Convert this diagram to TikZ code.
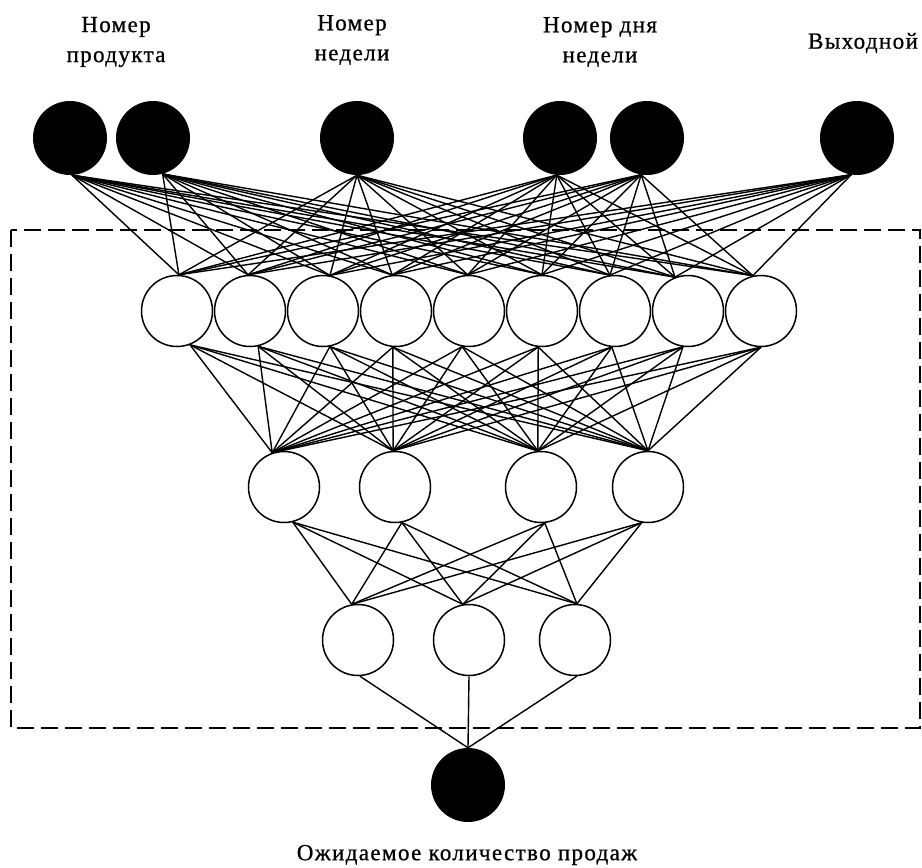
\documentclass[tikz,border=0pt]{standalone}
\usepackage{fontspec}
\setmainfont{Liberation Serif}[LetterSpace=6,FakeBold=0.8]
\begin{document}
\begin{tikzpicture}[x=1pt,y=-1pt,
  inp/.style={circle,fill=black,minimum size=74pt,inner sep=0pt},
  hid/.style={circle,draw=black,line width=1.5pt,fill=white,minimum size=71pt,inner sep=0pt},
  conn/.style={line width=1.4pt},
  lbl/.style={font=\fontsize{23}{30}\selectfont,align=center,inner sep=0pt}]
\useasboundingbox (0,0) rectangle (922,868);
% dashed frame
\draw[line width=1.5pt,dash pattern=on 17pt off 7pt] (11,230) rectangle (920,728);
% input nodes
\node[inp] (i1) at (70,138) {};
\node[inp] (i2) at (153,138) {};
\node[inp] (i3) at (357,138) {};
\node[inp] (i4) at (560,138) {};
\node[inp] (i5) at (647,138) {};
\node[inp] (i6) at (857,138) {};
% hidden layer 1
\foreach \x [count=\k] in {177,250,323,396,469,542,615,688,761}
  \node[hid] (h\k) at (\x,311) {};
% hidden layer 2
\foreach \x [count=\k] in {284,395,541,648}
  \node[hid] (g\k) at (\x,487) {};
% hidden layer 3
\foreach \x [count=\k] in {358,469,575}
  \node[hid] (k\k) at (\x,640) {};
% output
\node[inp] (out) at (468,785) {};
% connections input -> layer 1
\foreach \a [count=\i] in {-87,-75,-90,-95,-99,-99}
  \foreach \b [count=\j] in {87,93,79,96,92,90,98,111,103}
    \draw[conn] (i\i.\a) -- (h\j.\b);
% layer 1 -> layer 2
\foreach \a [count=\i] in {-69,-77,-79,-95,-101,-96,-95,-98,-90}
  \foreach \b [count=\j] in {109,93,95,90}
    \draw[conn] (h\i.\a) -- (g\j.\b);
% layer 2 -> layer 3
\foreach \a [count=\i] in {-76,-79,-84,-100}
  \foreach \b [count=\j] in {100,100,87}
    \draw[conn] (g\i.\a) -- (k\j.\b);
% layer 3 -> output
\foreach \a [count=\i] in {-87,-90,-87}
  \draw[conn] (k\i.\a) -- (out.90);
% labels
\node[lbl] (t1) at (116,42) {Номер\\продукта};
\node[lbl] (t2) at (352,40) {Номер\\недели};
\node[lbl] (t3) at (600,42) {Номер дня\\недели};
\node[lbl] (t4) at (863,43) {Выходной};
\node[lbl] (t5) at (467,855) {Ожидаемое количество продаж};
\end{tikzpicture}
\end{document}
